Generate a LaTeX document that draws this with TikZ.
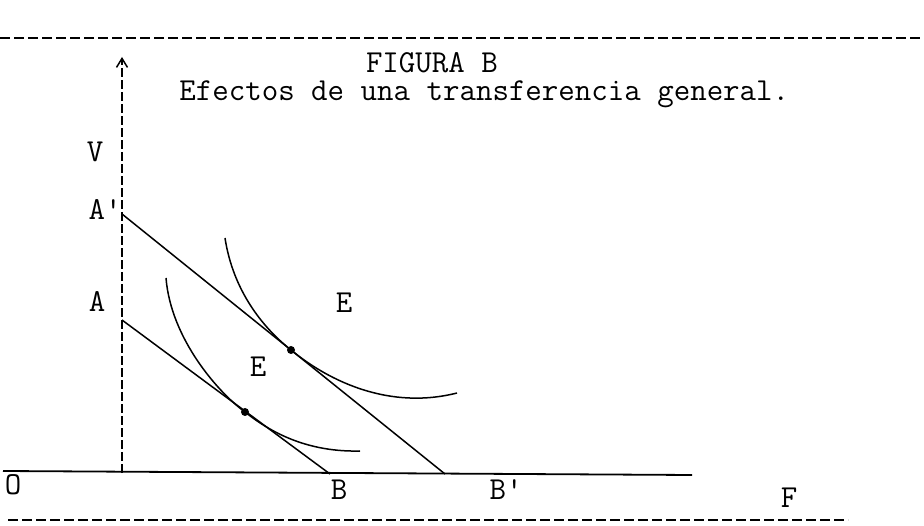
\documentclass[tikz,border=0pt]{standalone}
\usetikzlibrary{arrows.meta}
\begin{document}
\begin{tikzpicture}[x=1pt,y=-1pt,
  lbl/.style={font=\ttfamily\fontsize{32}{34}\selectfont, inner sep=0pt, anchor=base},
  ln/.style={line width=1.5pt},
  rule/.style={line width=1.4pt, dash pattern=on 10pt off 4pt}]
\useasboundingbox (0,0) rectangle (924,526);
% rules
\draw[rule] (0,38) -- (924,38);
\draw[rule] (8,520) -- (848,520);
% title
\node[lbl, font=\ttfamily\fontsize{32}{28}\selectfont, align=left, anchor=base west] (title) at (179.2,101)
  {\hspace*{186.6pt}FIGURA B\\Efectos de una transferencia general.};
% axes
\coordinate (o) at (122,473);
\coordinate (ytop) at (122,57);
\coordinate (x0) at (3,471);
\coordinate (xend) at (692,475);
\draw[line width=1.8pt] (x0) -- (xend);
\draw[line width=1.2pt, dash pattern=on 9pt off 3pt, -{Straight Barb[length=9pt,width=11pt,line width=1.5pt]}] (o) -- (ytop);
% budget lines
\coordinate (Ap) at (122,214);
\coordinate (Bp) at (445,474);
\coordinate (A) at (122,320);
\coordinate (B) at (330,474);
\draw[ln] (Ap) -- (Bp);
\draw[ln] (A) -- (B);
% indifference curves
\coordinate (T1) at (291,350);
\coordinate (T2) at (245,412);
\draw[ln] (225,238) .. controls (233,290) and (262,327) .. (T1)
  .. controls (330,382) and (390,410) .. (457,393);
\draw[ln] (166,278) .. controls (171,340) and (220,394) .. (T2)
  .. controls (280,440) and (318,452) .. (360,451);
\fill (T1) circle (4pt);
\fill (T2) circle (4pt);
% labels
\node[lbl] (lV) at (95,162) {V};
\node[lbl] (lAp) at (105,220) {A'};
\node[lbl] (lA) at (97,312) {A};
\node[lbl] (lE1) at (344,313) {E};
\node[lbl] (lE2) at (258,377) {E};
\node[lbl] (lO) at (13,494) {O};
\node[lbl] (lB) at (339,500) {B};
\node[lbl] (lBp) at (506,500) {B'};
\node[lbl] (lF) at (789,507) {F};
\end{tikzpicture}
\end{document}
